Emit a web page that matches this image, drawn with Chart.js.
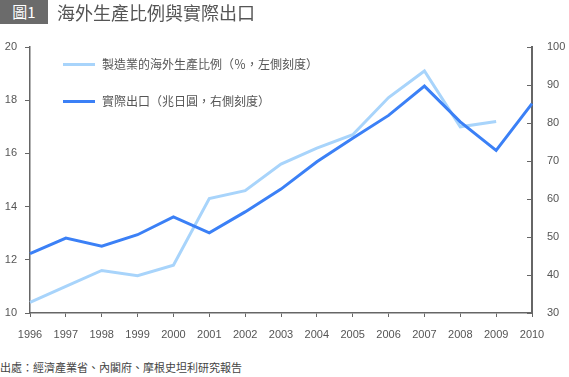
<!DOCTYPE html>
<html>
<head>
<meta charset="utf-8">
<script src="https://cdn.jsdelivr.net/npm/chart.js@4"></script>
<style>
    body { margin: 0; background: #fff; font-family: "Liberation Sans", "Noto Sans CJK TC", sans-serif; }
    #wrap { position: relative; width: 569px; height: 377px; overflow: hidden; }
    #chart { position: absolute; left: 0; top: 0; }
    .cjk { font-family: "Noto Sans CJK TC", sans-serif; }
    #titleBox { position: absolute; left: 0; top: 0; width: 48px; height: 24px; background: #6b6b6b; color: #fff;
        font-size: 15px; line-height: 24px; text-align: center; }
    #titleText { position: absolute; left: 57px; top: 0; font-size: 18px; line-height: 24px; color: #555; }
    .legend { position: absolute; left: 63px; font-size: 12px; color: #555; line-height: 16px; letter-spacing: 0; white-space: nowrap; }
    .legend span.swatch { display: inline-block; width: 32px; height: 3px; vertical-align: middle; margin-right: 7px; margin-top: -2px; }
    #source { position: absolute; left: 0; top: 359px; font-size: 11px; color: #444; white-space: nowrap; }
</style>
</head>
<body>
<div id="wrap">
    <canvas id="chart" width="569" height="345"></canvas>
    <div id="titleBox" class="cjk">圖1</div>
    <div id="titleText" class="cjk">海外生產比例與實際出口</div>
    <div class="legend cjk" style="top:56px"><span class="swatch" style="background:#a8d4fb"></span>製造業的海外生產比例（％，左側刻度）</div>
    <div class="legend cjk" style="top:93px"><span class="swatch" style="background:#3b80f6"></span>實際出口（兆日圓，右側刻度）</div>
    <div id="source" class="cjk">出處：經濟產業省、內閣府、摩根史坦利研究報告</div>
</div>
<script>
var years = ["1996", "1997", "1998", "1999", "2000", "2001", "2002", "2003", "2004", "2005", "2006", "2007", "2008", "2009", "2010"];
// 製造業的海外生產比例 (%, left scale)
var overseasRatio = [10.4, 11.0, 11.6, 11.4, 11.8, 14.3, 14.6, 15.6, 16.2, 16.7, 18.1, 19.1, 17.0, 17.2, null];
// 實際出口 (兆日圓, right scale)
var realExports = [45.6, 49.7, 47.6, 50.6, 55.3, 51.1, 56.6, 62.6, 69.8, 76.0, 82.0, 89.7, 80.3, 72.8, 85.1];
var leftTicks = [10, 12, 14, 16, 18, 20];
var rightTicks = [30, 40, 50, 60, 70, 80, 90, 100];

var axisColor = "#666";
var tickFont = { family: "'Liberation Sans', Arial, sans-serif", size: 11 };

// right axis has its tick marks pointing into the plot
var innerTicks = {
    id: "innerTicks",
    afterDraw: function (chart) {
        var ctx = chart.ctx;
        var scale = chart.scales.y1;
        ctx.save();
        ctx.strokeStyle = axisColor;
        ctx.lineWidth = 1;
        rightTicks.forEach(function (v) {
            var y = Math.round(scale.getPixelForValue(v)) + 0.5;
            ctx.beginPath();
            ctx.moveTo(scale.left - 5, y);
            ctx.lineTo(scale.left, y);
            ctx.stroke();
        });
        ctx.restore();
    }
};

new Chart(document.getElementById("chart").getContext("2d"), {
    type: "line",
    data: {
        labels: years,
        datasets: [
            {
                label: "實際出口（兆日圓，右側刻度）",
                data: realExports,
                yAxisID: "y1",
                borderColor: "#3b80f6",
                borderWidth: 3,
                pointRadius: 0,
                tension: 0,
                order: 0
            },
            {
                label: "製造業的海外生產比例（％，左側刻度）",
                data: overseasRatio,
                yAxisID: "y",
                borderColor: "#a8d4fb",
                borderWidth: 3,
                pointRadius: 0,
                tension: 0,
                order: 1
            }
        ]
    },
    options: {
        responsive: false,
        animation: false,
        devicePixelRatio: 1,
        layout: { padding: { top: 47, left: 0, right: 0, bottom: 0 } },
        plugins: { legend: { display: false }, tooltip: { enabled: false } },
        scales: {
            x: {
                offset: false,
                grid: { drawOnChartArea: false, color: axisColor, tickLength: 4 },
                border: { color: axisColor, width: 1.5 },
                ticks: { color: "#555", font: tickFont, padding: 11, maxRotation: 0, autoSkip: false },
                afterFit: function (scale) { scale.height = 32; }
            },
            y: {
                position: "left",
                min: 10,
                max: 20,
                afterBuildTicks: function (scale) {
                    scale.ticks = leftTicks.map(function (v) { return { value: v }; });
                },
                grid: { drawOnChartArea: false, color: axisColor, tickLength: 5 },
                border: { color: axisColor, width: 1.5 },
                ticks: { color: "#555", font: tickFont, padding: 8 },
                afterFit: function (scale) { scale.width = 30; }
            },
            y1: {
                position: "right",
                min: 30,
                max: 100,
                afterBuildTicks: function (scale) {
                    scale.ticks = rightTicks.map(function (v) { return { value: v }; });
                },
                grid: { drawOnChartArea: false, drawTicks: false },
                border: { color: axisColor, width: 2 },
                ticks: { color: "#555", font: tickFont, padding: 15 },
                afterFit: function (scale) { scale.width = 37; }
            }
        }
    },
    plugins: [innerTicks]
});
</script>
</body>
</html>
